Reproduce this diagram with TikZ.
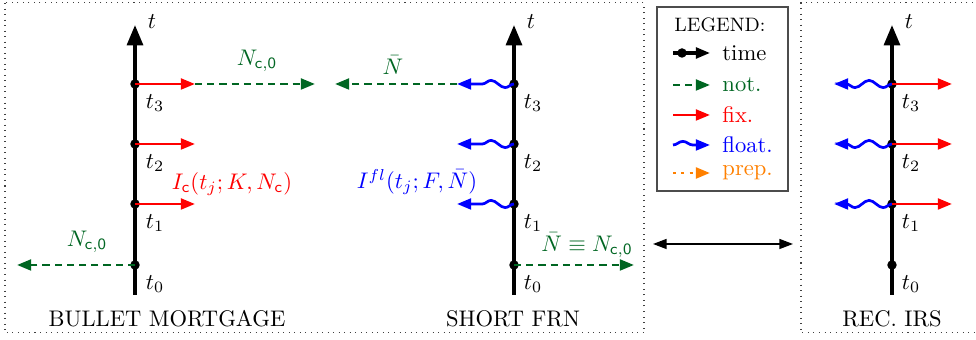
\documentclass[tikz,border=0pt]{standalone}
\usetikzlibrary{arrows.meta,decorations.pathmorphing}
\definecolor{dgreen}{RGB}{0,102,34}
\definecolor{myorange}{RGB}{255,128,0}
\begin{document}
\begin{tikzpicture}[x=0.443pt,y=-0.443pt,
  frame/.style={black!75,line width=0.45pt,dotted},
  axisline/.style={line width=1.6pt,-{Triangle[length=9pt,width=7pt]}},
  dotm/.style={circle,fill=black,inner sep=0pt,minimum size=4.2pt},
  tlab/.style={inner sep=0pt},
  tipA/.style={-{Triangle[length=6.3pt,width=4.8pt]}},
  fixarr/.style={red,line width=1.2pt,tipA},
  notarr/.style={dgreen,line width=1.2pt,dash pattern=on 3.2pt off 2.2pt,tipA},
  preparr/.style={myorange,line width=1.3pt,dash pattern=on 1.3pt off 2.4pt,tipA},
  wavy/.style={decorate,decoration={snake,amplitude=1.6pt,segment length=12.5pt,post length=5pt}},
  floatarr/.style={blue,line width=1.2pt,tipA,wavy},
  timearr/.style={black,line width=1.4pt,tipA},
  lbl/.style={inner sep=0pt},
]
\useasboundingbox (0,0) rectangle (976,340);

% frames
\draw[frame] (5,3) rectangle (644,333);
\draw[frame] (995,3) -- (801,3) -- (801,333) -- (995,333);

% ===== Axis 1: bullet mortgage =====
\coordinate (A1b) at (135,295);
\coordinate (A1t) at (135,25);
\draw[axisline] (A1b) -- (A1t);
\node[tlab] (A1tl) at (152,22) {$t$};
\foreach \j/\y in {0/265,1/204,2/144,3/84}{
  \node[dotm] (A1d\j) at (135,\y) {};
  \node[tlab] (A1l\j) at (155,\y+19) {$t_\j$};
}
\foreach \j/\y in {1/204,2/144,3/84}{
  \coordinate (A1f\j) at (195,\y);
  \draw[fixarr] (A1d\j.center) -- (A1f\j);
}
\coordinate (A1n3) at (315,84);
\draw[notarr] (A1f3) -- (A1n3);
\coordinate (A1n0) at (17,265);
\draw[notarr] (A1d0.center) -- (A1n0);
\node[lbl,text=dgreen] (A1N3) at (257,61) {$N_{\mathsf{c},\mathsf{0}}$};
\node[lbl,text=red] (A1I) at (232,184) {$I_{\mathsf{c}}(t_j;K,N_{\mathsf{c}})$};
\node[lbl,text=dgreen] (A1N0) at (87,242) {$N_{\mathsf{c},\mathsf{0}}$};
\node[lbl] (A1name) at (167,319) {BULLET MORTGAGE};

% ===== Axis 2: short FRN =====
\coordinate (A2b) at (514,295);
\coordinate (A2t) at (514,25);
\draw[axisline] (A2b) -- (A2t);
\node[tlab] (A2tl) at (531,22) {$t$};
\foreach \j/\y in {0/265,1/204,2/144,3/84}{
  \node[dotm] (A2d\j) at (514,\y) {};
  \node[tlab] (A2l\j) at (533,\y+19) {$t_\j$};
}
\foreach \j/\y in {1/204,2/144,3/84}{
  \coordinate (A2f\j) at (457,\y);
  \draw[floatarr] (A2d\j.center) -- (A2f\j);
}
\coordinate (A2n3) at (335,84);
\draw[notarr] (A2f3) -- (A2n3);
\coordinate (A2n0) at (634,265);
\draw[notarr] (A2d0.center) -- (A2n0);
\node[lbl,text=dgreen] (A2N3) at (393,65) {$\bar N$};
\node[lbl,text=blue] (A2I) at (417,182) {$I^{fl}(t_j;F,\bar N)$};
\node[lbl,text=dgreen] (A2N0) at (587,245) {$\bar N\equiv N_{\mathsf{c},\mathsf{0}}$};
\node[lbl] (A2name) at (513,319) {SHORT FRN};

% ===== Axis 3: rec. IRS =====
\coordinate (A3b) at (892,295);
\coordinate (A3t) at (892,25);
\draw[axisline] (A3b) -- (A3t);
\node[tlab] (A3tl) at (909,22) {$t$};
\foreach \j/\y in {0/265,1/204,2/144,3/84}{
  \node[dotm] (A3d\j) at (892,\y) {};
  \node[tlab] (A3l\j) at (911,\y+19) {$t_\j$};
}
\foreach \j/\y in {1/204,2/144,3/84}{
  \coordinate (A3w\j) at (834,\y);
  \coordinate (A3f\j) at (952,\y);
  \draw[floatarr] (A3d\j.center) -- (A3w\j);
  \draw[fixarr] (A3d\j.center) -- (A3f\j);
}
\node[lbl] (A3name) at (892,319) {REC. IRS};

% ===== Legend =====
\draw[black!70,line width=0.8pt] (657,7) rectangle (788,191);
\node[lbl] (Lhead) at (720,25) {\fontsize{8.6}{10}\selectfont LEGEND:};
\foreach \k/\y in {t/53,n/85,f/115,w/145,p/173}{
  \coordinate (L\k a) at (673,\y);
  \coordinate (L\k b) at (710,\y);
}
\draw[timearr] (Lta) -- (Ltb);
\node[dotm] (Ltd) at (682,53) {};
\draw[notarr] (Lna) -- (Lnb);
\draw[fixarr] (Lfa) -- (Lfb);
\draw[blue,line width=1.2pt,tipA,decorate,decoration={snake,amplitude=1.6pt,segment length=14pt,post length=5pt}] (Lwa) -- (Lwb);
\draw[preparr] (Lpa) -- (Lpb);
\node[lbl,anchor=west] (Lt) at (722,53) {time};
\node[lbl,anchor=west,text=dgreen] (Ln) at (722,85) {not.};
\node[lbl,anchor=west,text=red] (Lf) at (722,115) {fix.};
\node[lbl,anchor=west,text=blue] (Lw) at (722,145) {float.};
\node[lbl,anchor=west,text=myorange] (Lp) at (722,173) {prep.};

% double arrow
\coordinate (DAl) at (653,244);
\coordinate (DAr) at (793,244);
\draw[line width=0.6pt,{Triangle[length=6pt,width=4.4pt]}-{Triangle[length=6pt,width=4.4pt]}] (DAl) -- (DAr);
\end{tikzpicture}
\end{document}
